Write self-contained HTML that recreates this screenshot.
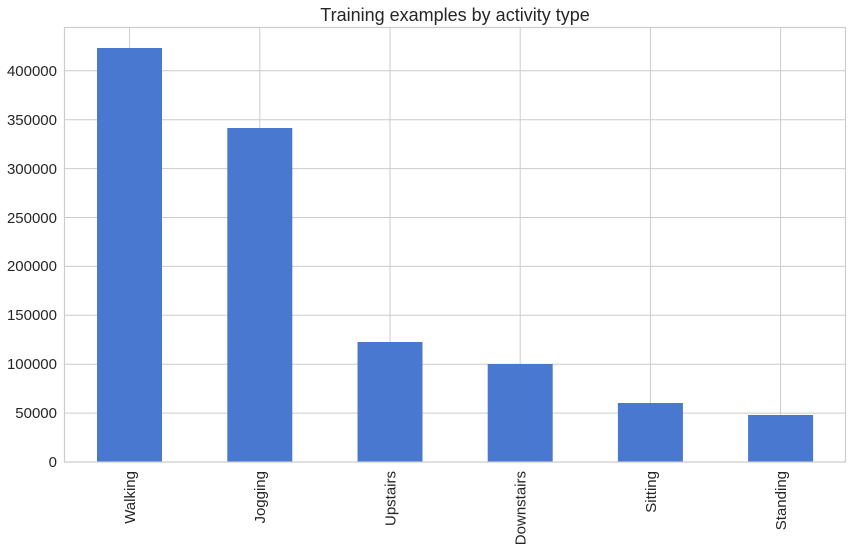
<!DOCTYPE html>
<html><head><meta charset="utf-8"><style>body{margin:0;background:#fff}</style></head>
<body>
<svg width="852" height="550" xmlns="http://www.w3.org/2000/svg" font-family="Liberation Sans, Arial, sans-serif" fill="#262626">
<rect width="852" height="550" fill="#fff"/>
<g stroke="#cccccc" stroke-width="1">
<line x1="64.5" x2="845.5" y1="413.1" y2="413.1"/>
<line x1="64.5" x2="845.5" y1="364.2" y2="364.2"/>
<line x1="64.5" x2="845.5" y1="315.3" y2="315.3"/>
<line x1="64.5" x2="845.5" y1="266.4" y2="266.4"/>
<line x1="64.5" x2="845.5" y1="217.5" y2="217.5"/>
<line x1="64.5" x2="845.5" y1="168.6" y2="168.6"/>
<line x1="64.5" x2="845.5" y1="119.7" y2="119.7"/>
<line x1="64.5" x2="845.5" y1="70.8" y2="70.8"/>
<line x1="129.6" x2="129.6" y1="27.5" y2="462"/>
<line x1="259.8" x2="259.8" y1="27.5" y2="462"/>
<line x1="390" x2="390" y1="27.5" y2="462"/>
<line x1="520.2" x2="520.2" y1="27.5" y2="462"/>
<line x1="650.4" x2="650.4" y1="27.5" y2="462"/>
<line x1="780.6" x2="780.6" y1="27.5" y2="462"/>
</g>
<g fill="#4878cf">
<rect x="97" y="48" width="65" height="414"/>
<rect x="227.3" y="128" width="65" height="334"/>
<rect x="357.5" y="342" width="65" height="120"/>
<rect x="487.7" y="364" width="65" height="98"/>
<rect x="617.9" y="403" width="65" height="59"/>
<rect x="748.1" y="415" width="65" height="47"/>
</g>
<rect x="64.5" y="27.5" width="781" height="434.5" fill="none" stroke="#cccccc" stroke-width="1.2"/>
<g font-size="15" text-anchor="end">
<text x="57" y="467">0</text>
<text x="57" y="418">50000</text>
<text x="57" y="369">100000</text>
<text x="57" y="320">150000</text>
<text x="57" y="271">200000</text>
<text x="57" y="223">250000</text>
<text x="57" y="174">300000</text>
<text x="57" y="125">350000</text>
<text x="57" y="76">400000</text>
</g>
<g font-size="15" text-anchor="end">
<text transform="translate(135,471) rotate(-90)">Walking</text>
<text transform="translate(265.2,471) rotate(-90)">Jogging</text>
<text transform="translate(395.4,471) rotate(-90)">Upstairs</text>
<text transform="translate(525.6,471) rotate(-90)">Downstairs</text>
<text transform="translate(655.8,471) rotate(-90)">Sitting</text>
<text transform="translate(786,471) rotate(-90)">Standing</text>
</g>
<text x="455" y="21" font-size="18" text-anchor="middle">Training examples by activity type</text>
</svg>
</body></html>
